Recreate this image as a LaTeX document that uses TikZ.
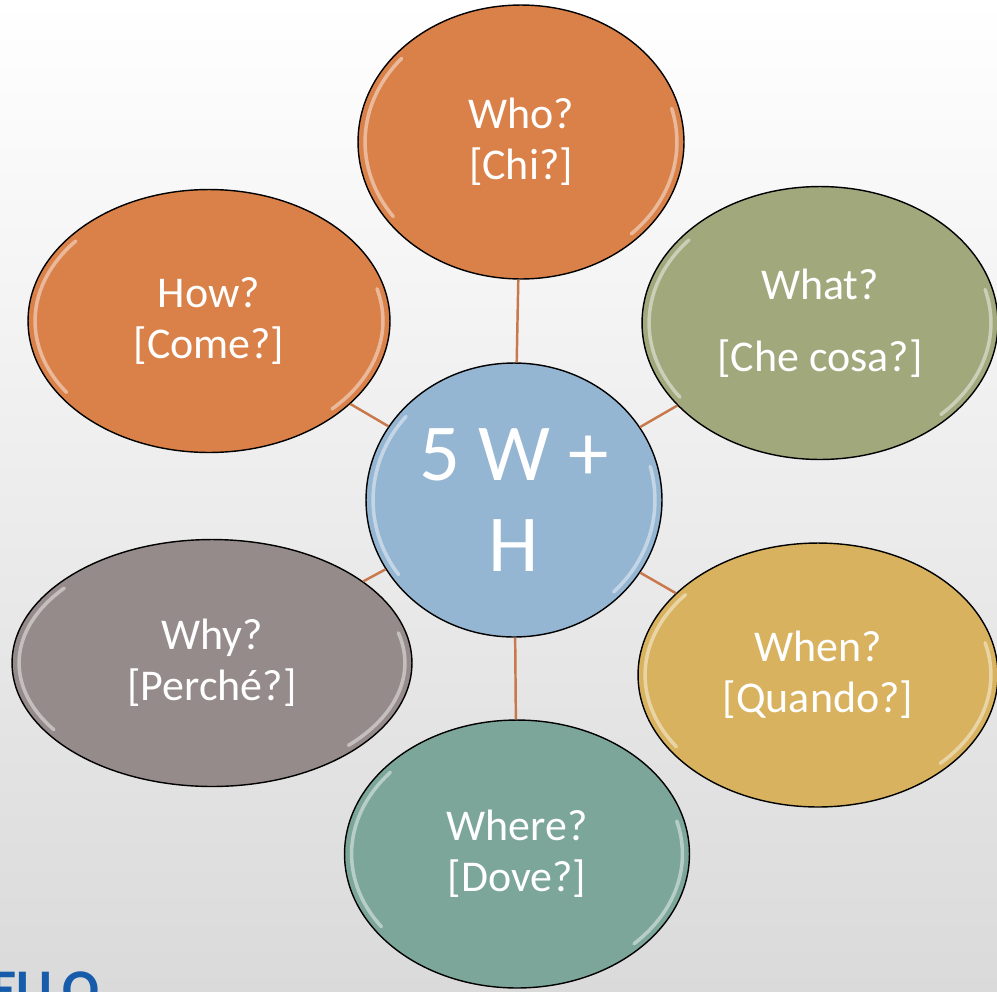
\documentclass[tikz,border=0pt]{standalone}
\usepackage{fontspec}
\setmainfont{Carlito}
\usepackage{tikz}
\usetikzlibrary{shapes.geometric, calc, positioning}

\definecolor{whoc}{RGB}{218,129,73}
\definecolor{whatc}{RGB}{160,168,124}
\definecolor{whenc}{RGB}{216,178,94}
\definecolor{wherec}{RGB}{124,166,154}
\definecolor{whyc}{RGB}{149,139,138}
\definecolor{hubc}{RGB}{148,182,210}
\definecolor{linkc}{RGB}{200,120,74}
\definecolor{bgc}{RGB}{218,218,218}
\definecolor{brandc}{RGB}{22,92,170}

\tikzset{
  gloss/.style={path picture={
    \draw[white, opacity=.45, line width=2pt, line cap=round] let \p1=(path picture bounding box.north east), \p2=(path picture bounding box.center) in
      (\p2) ++(140:{\x1-\x2-4pt} and {\y1-\y2-4pt}) arc[start angle=140, end angle=215, x radius={\x1-\x2-4pt}, y radius={\y1-\y2-4pt}]
      (\p2) ++(-45:{\x1-\x2-4pt} and {\y1-\y2-4pt}) arc[start angle=-45, end angle=15, x radius={\x1-\x2-4pt}, y radius={\y1-\y2-4pt}];
  }},
  bubble/.style={ellipse, draw=black, line width=0.8pt, text=white, align=center, inner sep=0pt, gloss, font=\fontsize{25}{29}\selectfont},
  link/.style={draw=linkc, line width=1.4pt}
}

\begin{document}
\begin{tikzpicture}[x=0.02cm, y=-0.02cm]
\useasboundingbox (0,0) rectangle (997,991);
\clip (0,0) rectangle (997,991);
\shade[top color=white, bottom color=bgc] (0,0) rectangle (997,991);
\node[anchor=north west, inner sep=0pt, text=brandc, font=\bfseries\fontsize{31}{31}\selectfont] (brand) at (-10,971) {ELLO};

\node[bubble, fill=hubc, minimum width=5.92cm, minimum height=5.48cm, font=\fontsize{46}{52}\selectfont] (hub) at (514,500) {5 W +\\H};

\node[bubble, fill=whoc, minimum width=6.52cm, minimum height=5.48cm] (who) at (521,142) {Who?\\{[Chi?]}};
\node[bubble, fill=whatc, minimum width=7.12cm, minimum height=5.46cm, font=\fontsize{25}{41}\selectfont] (what) at (820,323) {What?\\{[Che cosa?]}};
\node[bubble, fill=whenc, minimum width=7.2cm, minimum height=5.28cm] (when) at (818,675) {When?\\{[Quando?]}};
\node[bubble, fill=wherec, minimum width=6.9cm, minimum height=5.36cm] (where) at (517,854) {Where?\\{[Dove?]}};
\node[bubble, fill=whyc, minimum width=8cm, minimum height=4.94cm] (why) at (212,663) {Why?\\{[Perché?]}};
\node[bubble, fill=whoc, minimum width=7.24cm, minimum height=5.26cm] (how) at (209,321) {How?\\{[Come?]}};

\draw[link] (hub) -- (who); \draw[link] (hub) -- (what); \draw[link] (hub) -- (when);
\draw[link] (hub) -- (where); \draw[link] (hub) -- (why); \draw[link] (hub) -- (how);
\end{tikzpicture}
\end{document}
